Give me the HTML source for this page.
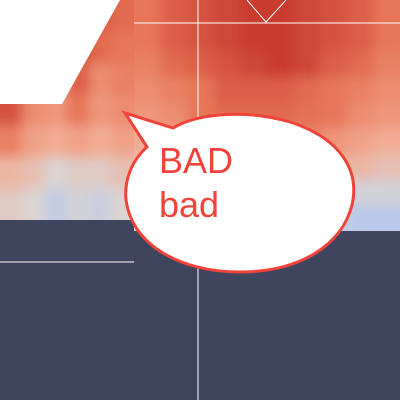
<!DOCTYPE html>
<html><head><meta charset="utf-8"><style>
html,body{margin:0;padding:0;background:#40455f;}
svg{display:block}
</style></head><body>
<svg id="chart" width="400" height="400" viewBox="0 0 400 400">
<defs>
<filter id="blur" x="-10%" y="-10%" width="120%" height="120%"><feGaussianBlur stdDeviation="6"/></filter>
<clipPath id="clipL"><rect x="0" y="0" width="134" height="220"/></clipPath>
<clipPath id="clipR"><rect x="134" y="0" width="266" height="231"/></clipPath>
</defs>
<rect x="0" y="0" width="400" height="400" fill="#40455f"/>
<g clip-path="url(#clipL)"><g id="left" filter="url(#blur)"></g></g>
<g clip-path="url(#clipR)"><g id="right" filter="url(#blur)"></g></g>
<polygon points="0,0 120,0 62,104 0,104" fill="#ffffff"/>
<line x1="198" y1="0" x2="198" y2="400" stroke="#fff" stroke-width="1"/>
<line x1="134" y1="23" x2="400" y2="23" stroke="#fff" stroke-width="1"/>
<line x1="0" y1="262" x2="134" y2="262" stroke="#fff" stroke-width="1"/>
<polyline points="247,0 266,22 286,0" fill="none" stroke="#fff" stroke-width="1"/>
<path d="M125,113 L173,128 C200,112 250,110 290,122 C340,138 360,170 352,205 C342,245 300,272 240,272 C180,272 132,245 126,200 C124,180 132,160 147,147 Z" fill="#fff" stroke="#f0443a" stroke-width="3"/>
<text x="159" y="173" font-family="Liberation Sans, sans-serif" font-size="36" fill="#f0443a">BAD</text>
<text x="159" y="217" font-family="Liberation Sans, sans-serif" font-size="36" fill="#f0443a">bad</text>
</svg>
<script>
const leftValues = [
 [0.85,0.8,0.8,0.9,0.85,0.8],
 [0.85,0.75,0.8,0.95,0.8,0.75],
 [0.9,0.7,0.65,0.85,0.65,0.7],
 [0.9,0.65,0.6,0.75,0.6,0.65],
 [0.7,0.55,0.5,0.55,0.5,0.55],
 [0.45,0.4,0.3,0.35,0.35,0.4],
 [0.35,0.3,0.15,0.25,0.2,0.3]
];
const rightValues = [
 [0.75,0.85,0.9,0.95,1.0,1.0,0.95,0.9,0.85,0.75],
 [0.75,0.85,0.9,0.95,1.0,1.0,0.95,0.9,0.85,0.75],
 [0.7,0.8,0.85,0.9,0.95,1.0,0.95,0.85,0.8,0.7],
 [0.65,0.7,0.75,0.85,0.85,0.85,0.8,0.75,0.7,0.65],
 [0.6,0.65,0.75,0.8,0.8,0.8,0.78,0.75,0.65,0.6],
 [0.5,0.55,0.6,0.65,0.65,0.65,0.65,0.6,0.55,0.5],
 [0.4,0.45,0.5,0.55,0.55,0.55,0.55,0.5,0.45,0.4],
 [0.3,0.3,0.35,0.4,0.4,0.4,0.35,0.3,0.25,0.25],
 [0.25,0.2,0.25,0.3,0.3,0.3,0.25,0.2,0.1,0.1]
];
const stops=[[0,[170,196,245]],[0.3,[218,212,210]],[0.5,[242,172,148]],[0.75,[232,118,88]],[1,[200,58,47]]];
function color(v){for(let i=1;i<stops.length;i++){if(v<=stops[i][0]){const a=stops[i-1],b=stops[i],t=(v-a[0])/(b[0]-a[0]);return 'rgb('+a[1].map((c,k)=>Math.round(c+(b[1][k]-c)*t)).join(',')+')';}}return 'rgb(200,58,47)';}
function draw(gid,vals,x0,y0,w,h,name){
 const g=document.getElementById(gid),rows=vals.length,cols=vals[0].length;
 const cw=w/cols,ch=h/rows,pad=20;
 vals.forEach((row,r)=>row.forEach((v,c)=>{
  const el=document.createElementNS('http://www.w3.org/2000/svg','rect');
  let x=x0+c*cw,y=y0+r*ch,ww=cw+0.5,hh=ch+0.5;
  if(c===0){x-=pad;ww+=pad;} if(c===cols-1)ww+=pad;
  if(r===0){y-=pad;hh+=pad;} if(r===rows-1)hh+=pad;
  el.setAttribute('x',x);el.setAttribute('y',y);el.setAttribute('width',ww);el.setAttribute('height',hh);
  el.setAttribute('fill',color(v));
  
  
  g.appendChild(el);
 }));
}
draw('left',leftValues,0,0,134,220,'left-heatmap-cell');
draw('right',rightValues,134,0,266,231,'right-heatmap-cell');
</script>
</body></html>
